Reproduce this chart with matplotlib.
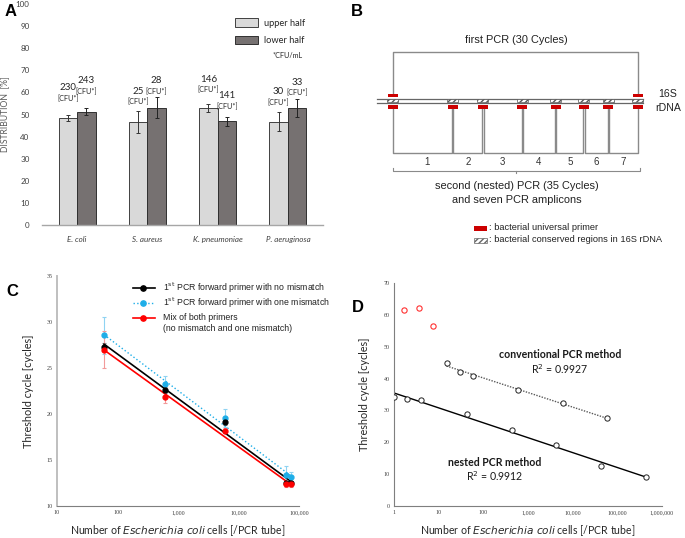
import numpy as np
import matplotlib
matplotlib.use('Agg')
import matplotlib.pyplot as plt
from matplotlib.patches import Rectangle
from matplotlib.ticker import FixedLocator, FuncFormatter, NullLocator

W, H = 685, 538
DPI = 100

# ---------------- Panel A data ----------------
species = ['E. coli', 'S. aureus', 'K. pneumoniae', 'P. aeruginosa']
upper_half = [48.5, 46.5, 52.9, 46.8]
lower_half = [51.3, 53.0, 46.9, 52.9]
upper_err = [1.5, 4.9, 1.9, 4.2]
lower_err = [1.6, 4.7, 1.9, 3.9]
upper_cfu = ['230', '25', '146', '30']
lower_cfu = ['243', '28', '141', '33']
a_yticks = [0, 10, 20, 30, 40, 50, 60, 70, 80, 90, 100]

# ---------------- Panel C data ----------------
c_cells = [60, 600, 6000, 60000, 75000]
c_nomis = [27.3, 22.6, 19.1, 12.5, 12.5]
c_nomis_err = [0.4, 0.3, 0.3, 0.2, 0.2]
c_onemis = [28.55, 23.3, 19.55, 13.4, 13.1]
c_onemis_err = [2.0, 0.85, 1.0, 0.9, 0.6]
c_mix = [27.0, 21.8, 18.2, 12.35, 12.35]
c_mix_err = [2.0, 0.6, 0.3, 0.3, 0.3]
c_xticks = [10, 100, 1000, 10000, 100000]
c_yticks = [10, 15, 20, 25, 30, 35]

# ---------------- Panel D data ----------------
d_conv_cells = [15, 30, 60, 600, 6000, 60000]
d_conv_ct = [44.8, 42.2, 40.7, 36.3, 32.4, 27.5]
d_nest_cells = [1, 2, 4, 43, 430, 4300, 43000, 430000]
d_nest_ct = [34.2, 33.6, 33.3, 28.9, 23.9, 19.2, 12.4, 9.1]
d_nd_cells = [1.7, 3.6, 7.4]
d_nd_ct = [61.6, 62.1, 56.6]
d_xticks = [1, 10, 100, 1000, 10000, 100000, 1000000]
d_yticks = [0, 10, 20, 30, 40, 50, 60, 70]

# ---------------- Panel B schematic ----------------
conserved_x = [392.7, 452.7, 483.0, 522.3, 555.7, 584.0, 608.5, 637.7]
amplicon_names = ['1', '2', '3', '4', '5', '6', '7']

SANS = ['Liberation Sans', 'DejaVu Sans']
CAL = ['Lato', 'DejaVu Sans']
SERIF = ['Liberation Serif', 'DejaVu Serif']

fig = plt.figure(figsize=(W / DPI, H / DPI), dpi=DPI)


def ax_px(left, top, right, bottom):
    return fig.add_axes([left / W, 1 - bottom / H, (right - left) / W, (bottom - top) / H])


# ================= Panel A =================
axA = ax_px(42, 4, 323, 225)
x = np.arange(len(species))
bw = 0.265
axA.bar(x - bw / 2, upper_half, bw, color='#d9d9d9', edgecolor='#404040', linewidth=0.7,
        yerr=upper_err, error_kw=dict(ecolor='#333333', elinewidth=0.7, capsize=1.5, capthick=0.7))
axA.bar(x + bw / 2, lower_half, bw, color='#767171', edgecolor='#303030', linewidth=0.7,
        yerr=lower_err, error_kw=dict(ecolor='#222222', elinewidth=0.7, capsize=1.5, capthick=0.7))
axA.set_xlim(-0.5, 3.5)
axA.set_ylim(0, 100)
axA.set_yticks(a_yticks)
axA.set_xticks(x)
axA.set_xticklabels(species, fontstyle='italic', fontsize=7.3, family=CAL)
axA.tick_params(axis='both', length=0, colors='#404040', labelsize=5.8)
axA.tick_params(axis='x', pad=8)
axA.tick_params(axis='y', pad=9)
for lab in axA.get_yticklabels():
    lab.set_family(CAL)
for s in ['top', 'right', 'left']:
    axA.spines[s].set_visible(False)
axA.spines['bottom'].set_color('#a6a6a6')
axA.spines['bottom'].set_linewidth(1.0)
axA.set_ylabel('DISTRIBUTION  [%]', fontsize=6.2, color='#595959', family=CAL, labelpad=5)
axA.patch.set_visible(False)

a_lab_upper_y = [62.0, 60.6, 66.0, 60.2]
a_lab_lower_y = [65.2, 65.2, 58.4, 64.7]
for i in range(len(species)):
    axA.text(x[i] - bw / 2, a_lab_upper_y[i], upper_cfu[i], ha='center', va='center',
             fontsize=7, family=CAL, color='#262626')
    axA.text(x[i] - bw / 2, a_lab_upper_y[i] - 4.8, '[CFU*]', ha='center', va='center',
             fontsize=5.2, family=CAL, color='#262626')
    axA.text(x[i] + bw / 2, a_lab_lower_y[i], lower_cfu[i], ha='center', va='center',
             fontsize=7, family=CAL, color='#262626')
    axA.text(x[i] + bw / 2, a_lab_lower_y[i] - 4.8, '[CFU*]', ha='center', va='center',
             fontsize=5.2, family=CAL, color='#262626')

# ================= Panel C =================
axC = ax_px(57, 276, 299, 506)
col_blk, col_blu, col_red = '#000000', '#1eaee8', '#ff0000'
lc = np.log10(c_cells)
for ys, err, col, ecol, ls in [
        (c_onemis, c_onemis_err, col_blu, '#8fd3f2', ':'),
        (c_nomis, c_nomis_err, col_blk, '#8c8c8c', '-'),
        (c_mix, c_mix_err, col_red, '#f29a9a', '-')]:
    axC.errorbar(c_cells, ys, yerr=err, fmt='none', ecolor=ecol, elinewidth=0.8,
                 capsize=1.5, capthick=0.8, zorder=2)
    p = np.polyfit(lc, ys, 1)
    xx = np.array([min(c_cells), max(c_cells)])
    axC.plot(xx, np.polyval(p, np.log10(xx)), color=col, lw=1.2 if ls == '-' else 1.0,
             ls=ls, zorder=3)
    axC.plot(c_cells, ys, 'o', color=col, ms=3.5, zorder=4)
axC.set_xscale('log')
axC.set_xlim(10, 100000)
axC.set_ylim(10, 35)
axC.xaxis.set_major_locator(FixedLocator(c_xticks))
axC.xaxis.set_minor_locator(NullLocator())
axC.xaxis.set_major_formatter(FuncFormatter(lambda v, p: '{:,}'.format(int(round(v)))))
axC.set_yticks(c_yticks)
axC.tick_params(axis='both', length=0, labelsize=4.3, colors='#404040', pad=3)
for lab in axC.get_xticklabels() + axC.get_yticklabels():
    lab.set_family(SERIF)
for s in ['top', 'right']:
    axC.spines[s].set_visible(False)
axC.spines['left'].set_color('#bfbfbf')
axC.spines['left'].set_linewidth(1.4)
axC.spines['bottom'].set_color('#7f7f7f')
axC.spines['bottom'].set_linewidth(0.8)
axC.set_xlabel('Number of $\\it{Escherichia\\ coli}$ cells [/PCR tube]', fontsize=7.6,
               family=CAL, color='#262626', labelpad=6)
axC.set_ylabel('Threshold cycle [cycles]', fontsize=7.8, family=CAL, color='#262626', labelpad=9)
axC.patch.set_visible(False)

# ================= Panel D =================
axD = ax_px(394, 283, 662, 506)
axD.plot(d_nd_cells, d_nd_ct, 'o', mfc='none', mec='#ff3030', ms=3.8, mew=0.8, zorder=4)
pc = np.polyfit(np.log10(d_conv_cells), d_conv_ct, 1)
xc = np.array([min(d_conv_cells), max(d_conv_cells)])
axD.plot(xc, np.polyval(pc, np.log10(xc)), color='#595959', lw=1.0, ls=(0, (1, 1)), zorder=2)
pn = np.polyfit(np.log10(d_nest_cells), d_nest_ct, 1)
xn = np.array([min(d_nest_cells), max(d_nest_cells)])
axD.plot(xn, np.polyval(pn, np.log10(xn)), color='#000000', lw=1.0, zorder=2)
axD.plot(d_conv_cells, d_conv_ct, 'o', mfc='white', mec='#222222', ms=3.8, mew=0.7, zorder=4)
axD.plot(d_nest_cells, d_nest_ct, 'o', mfc='white', mec='#222222', ms=3.8, mew=0.7, zorder=4)
axD.set_xscale('log')
axD.set_xlim(1, 1000000)
axD.set_ylim(0, 70)
axD.xaxis.set_major_locator(FixedLocator(d_xticks))
axD.xaxis.set_minor_locator(NullLocator())
axD.xaxis.set_major_formatter(FuncFormatter(lambda v, p: '{:,}'.format(int(round(v)))))
axD.set_yticks(d_yticks)
axD.tick_params(axis='both', length=0, labelsize=4.3, colors='#404040', pad=3)
for lab in axD.get_xticklabels() + axD.get_yticklabels():
    lab.set_family(SERIF)
for s in ['top', 'right']:
    axD.spines[s].set_visible(False)
axD.spines['left'].set_color('#7f7f7f')
axD.spines['left'].set_linewidth(0.8)
axD.spines['bottom'].set_color('#7f7f7f')
axD.spines['bottom'].set_linewidth(0.8)
axD.set_xlabel('Number of $\\it{Escherichia\\ coli}$ cells [/PCR tube]', fontsize=7.6,
               family=CAL, color='#262626', labelpad=6)
axD.set_ylabel('Threshold cycle [cycles]', fontsize=7.8, family=CAL, color='#262626', labelpad=10)
axD.patch.set_visible(False)

# ================= Overlay (panel B, legends, letters) =================
ov = fig.add_axes([0, 0, 1, 1])
ov.set_xlim(0, W)
ov.set_ylim(H, 0)
ov.axis('off')
ov.patch.set_visible(False)

# panel letters
for lt, (lx, ly) in {'A': (11, 12), 'B': (357, 12), 'C': (12, 291), 'D': (358, 307)}.items():
    ov.text(lx, ly, lt, fontsize=12, fontweight='bold', family=SANS, ha='center', va='center')

# legend A
ov.add_patch(Rectangle((235, 18), 23, 9, facecolor='#d9d9d9', edgecolor='#404040', lw=0.7))
ov.add_patch(Rectangle((235, 36), 23, 8, facecolor='#767171', edgecolor='#303030', lw=0.7))
ov.text(264, 23, 'upper half', fontsize=6.7, family=CAL, va='center', color='#262626')
ov.text(264, 40.5, 'lower half', fontsize=6.7, family=CAL, va='center', color='#262626')
ov.text(273, 56, '*CFU/mL', fontsize=5.2, family=CAL, va='center', color='#262626')

# ---- Panel B ----
gray = '#8a8a8a'
ov.text(516, 40, 'first PCR (30 Cycles)', fontsize=7.9, family=SANS, ha='center', va='center',
        color='#222222')
xl, xr = conserved_x[0], conserved_x[-1]
ov.plot([xl, xl, xr, xr], [94, 52, 52, 94], color=gray, lw=1.0)
# DNA strands
ov.plot([377, 643], [99.2, 99.2], color='#666666', lw=0.9)
ov.plot([377, 643], [102.6, 102.6], color='#666666', lw=0.9)
for cx in conserved_x:
    ov.add_patch(Rectangle((cx - 5.5, 99.4), 11, 3.0, facecolor='white', edgecolor='#555555',
                           lw=0.5, hatch='//////', zorder=3))
    ov.add_patch(Rectangle((cx - 5, 105.3), 10, 3.6, facecolor='#cc0000', edgecolor='none',
                           zorder=3))
for cx in (xl, xr):
    ov.add_patch(Rectangle((cx - 5, 94), 10, 3.4, facecolor='#cc0000', edgecolor='none', zorder=3))
# amplicons
for i in range(len(amplicon_names)):
    a = conserved_x[i] + (0.6 if i > 0 else 0)
    b = conserved_x[i + 1] - (0.6 if i + 1 < len(conserved_x) - 1 else 0)
    ov.plot([a, a, b, b], [109, 153, 153, 109], color=gray, lw=1.0)
    ov.text((conserved_x[i] + conserved_x[i + 1]) / 2 + (4 if i == 0 else 0), 162,
            amplicon_names[i], fontsize=7, family=SANS, ha='center', va='center', color='#333333')
# brace
ov.plot([393, 393, 639.7, 639.7], [167.5, 170.5, 170.5, 167.5], color=gray, lw=0.8)
ov.plot([516, 516], [170.5, 172.5], color=gray, lw=0.8)
ov.text(517, 186, 'second (nested) PCR (35 Cycles)', fontsize=7.9, family=SANS, ha='center',
        va='center', color='#222222')
ov.text(517, 200, 'and seven PCR amplicons', fontsize=7.9, family=SANS, ha='center',
        va='center', color='#222222')
ov.text(668, 94, '16S', fontsize=7.6, family=SANS, ha='center', va='center', color='#222222')
ov.text(668, 108, 'rDNA', fontsize=7.6, family=SANS, ha='center', va='center', color='#222222')
# B legend
ov.add_patch(Rectangle((474, 225.5), 13, 5, facecolor='#cc0000', edgecolor='none'))
ov.add_patch(Rectangle((474, 237.5), 13, 5, facecolor='white', edgecolor='#666666', lw=0.5,
                       hatch='//////'))
ov.text(489, 228, ': bacterial universal primer', fontsize=6.7, family=SANS, va='center',
        color='#222222')
ov.text(489, 240, ': bacterial conserved regions in 16S rDNA', fontsize=6.7, family=SANS,
        va='center', color='#222222')

# ---- C legend ----
leg = [(288, col_blk, '-', '1$^{\\rm st}$ PCR forward primer with no mismatch'),
       (303, col_blu, ':', '1$^{\\rm st}$ PCR forward primer with one mismatch'),
       (318, col_red, '-', 'Mix of both primers')]
for ly, col, ls, txt in leg:
    ov.plot([133, 155], [ly, ly], color=col, ls=ls, lw=1.2 if ls == '-' else 1.0)
    ov.plot([143], [ly], 'o', color=col, ms=3.8)
    ov.text(163, ly, txt, fontsize=6.3, family=SANS, va='center', color='#222222')
ov.text(163, 328.5, '(no mismatch and one mismatch)', fontsize=6.3, family=SANS, va='center',
        color='#222222')

# ---- D annotations ----
ov.text(560, 354, 'conventional PCR method', fontsize=7.6, fontweight='bold', family=CAL,
        ha='center', va='center', color='#1a1a1a')
ov.text(560, 369, 'R$^2$ = 0.9927', fontsize=7.6, family=CAL, ha='center', va='center',
        color='#1a1a1a')
ov.text(495, 462, 'nested PCR method', fontsize=7.6, fontweight='bold', family=CAL,
        ha='center', va='center', color='#1a1a1a')
ov.text(495, 476, 'R$^2$ = 0.9912', fontsize=7.6, family=CAL, ha='center', va='center',
        color='#1a1a1a')

fig.savefig('out.png', dpi=DPI)
